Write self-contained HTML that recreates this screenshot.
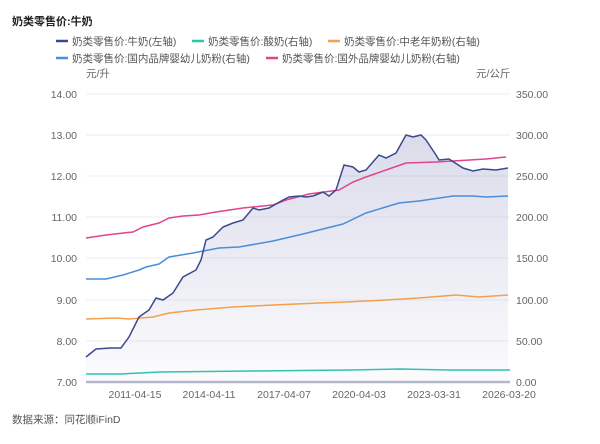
<!DOCTYPE html>
<html><head><meta charset="utf-8"><style>
body{margin:0;background:#fff;}
svg text{font-family:"Liberation Sans","Noto Sans CJK SC",sans-serif;}
</style></head><body>
<svg width="600" height="439" xmlns="http://www.w3.org/2000/svg">
<defs><linearGradient id="g" x1="0" y1="0" x2="0" y2="1"><stop offset="0" stop-color="#4a4f9a" stop-opacity="0.2"/><stop offset="1" stop-color="#4a4f9a" stop-opacity="0.02"/></linearGradient></defs>
<text x="12" y="25" font-size="11" font-weight="bold" fill="#222">奶类零售价:牛奶</text>
<g font-size="10.5" fill="#555">
<line x1="56" y1="41" x2="68" y2="41" stroke="#3b4a8f" stroke-width="2.5"/><text x="72" y="45">奶类零售价:牛奶(左轴)</text>
<line x1="192" y1="41" x2="204" y2="41" stroke="#2ec2b0" stroke-width="2.5"/><text x="208" y="45">奶类零售价:酸奶(右轴)</text>
<line x1="328" y1="41" x2="340" y2="41" stroke="#f5a04a" stroke-width="2.5"/><text x="344" y="45">奶类零售价:中老年奶粉(右轴)</text>
<line x1="56" y1="58" x2="68" y2="58" stroke="#4a8ed8" stroke-width="2.5"/><text x="72" y="62">奶类零售价:国内品牌婴幼儿奶粉(右轴)</text>
<line x1="266" y1="58" x2="278" y2="58" stroke="#e0458a" stroke-width="2.5"/><text x="282" y="62">奶类零售价:国外品牌婴幼儿奶粉(右轴)</text>
</g>
<g font-size="10.5" fill="#666">
<text x="86" y="77">元/升</text><text x="476" y="77">元/公斤</text>
</g>
<g stroke="#eceef3" stroke-width="1">
<line x1="86" y1="94" x2="510" y2="94"/><line x1="86" y1="135" x2="510" y2="135"/><line x1="86" y1="176" x2="510" y2="176"/><line x1="86" y1="217" x2="510" y2="217"/><line x1="86" y1="258" x2="510" y2="258"/><line x1="86" y1="300" x2="510" y2="300"/><line x1="86" y1="341" x2="510" y2="341"/>
</g>
<g font-size="10.5" fill="#666" text-anchor="end">
<text x="77" y="98">14.00</text><text x="77" y="139">13.00</text><text x="77" y="180">12.00</text><text x="77" y="221">11.00</text><text x="77" y="262">10.00</text><text x="77" y="304">9.00</text><text x="77" y="345">8.00</text><text x="77" y="386">7.00</text>
</g>
<g font-size="10.5" fill="#666">
<text x="516" y="98">350.00</text><text x="516" y="139">300.00</text><text x="516" y="180">250.00</text><text x="516" y="221">200.00</text><text x="516" y="262">150.00</text><text x="516" y="304">100.00</text><text x="516" y="345">50.00</text><text x="516" y="386">0.00</text>
</g>
<path d="M86,357 L96,349 111,348 121,348 129,337 139,317 149,310 156,298 163,300 173,293 183,277 196,270 201,260 206,240 213,237 223,227 233,223 243,220 253,208 259,210 269,208 283,200 289,197 299,196 306,197 313,196 323,192 329,196 336,190 344,165 353,167 359,172 366,170 379,155 386,158 396,153 406,135 413,137 421,135 426,140 436,155 439,160 449,159 463,168 473,171 483,169 496,170 508,168 L508,382 86,382Z" fill="url(#g)"/>
<polyline fill="none" stroke="#2ec2b0" stroke-width="1.5" points="86,374 120,374 160,372 250,371 350,370 400,369 450,370 510,370"/>
<polyline fill="none" stroke="#f5a04a" stroke-width="1.5" points="86,319 116,318 129,319 153,317 169,313 196,310 233,307 273,305 319,303 346,302 386,300 419,298 456,295 479,297 508,295"/>
<polyline fill="none" stroke="#4a8ed8" stroke-width="1.5" points="86,279 106,279 123,275 139,270 146,267 159,264 169,257 193,253 219,248 239,247 273,241 303,234 319,230 343,224 366,213 399,203 419,201 453,196 473,196 486,197 508,196"/>
<polyline fill="none" stroke="#e0458a" stroke-width="1.5" points="86,238 106,235 133,232 143,227 159,223 169,218 183,216 199,215 216,212 243,208 273,205 286,200 309,194 339,190 353,182 366,177 386,170 406,163 436,162 453,161 486,159 506,157"/>
<polyline fill="none" stroke="#3b4a8f" stroke-width="1.5" points="86,357 96,349 111,348 121,348 129,337 139,317 149,310 156,298 163,300 173,293 183,277 196,270 201,260 206,240 213,237 223,227 233,223 243,220 253,208 259,210 269,208 283,200 289,197 299,196 306,197 313,196 323,192 329,196 336,190 344,165 353,167 359,172 366,170 379,155 386,158 396,153 406,135 413,137 421,135 426,140 436,155 439,160 449,159 463,168 473,171 483,169 496,170 508,168"/>
<line x1="86" y1="382" x2="510" y2="382" stroke="#b5b8cc" stroke-width="2.5"/>
<g font-size="10.5" fill="#666" text-anchor="middle">
<text x="135" y="398">2011-04-15</text><text x="209" y="398">2014-04-11</text><text x="284" y="398">2017-04-07</text><text x="359" y="398">2020-04-03</text><text x="434" y="398">2023-03-31</text><text x="509" y="398">2026-03-20</text>
</g>
<text x="12" y="423" font-size="10.5" fill="#555">数据来源：同花顺iFinD</text>
</svg>
</body></html>
